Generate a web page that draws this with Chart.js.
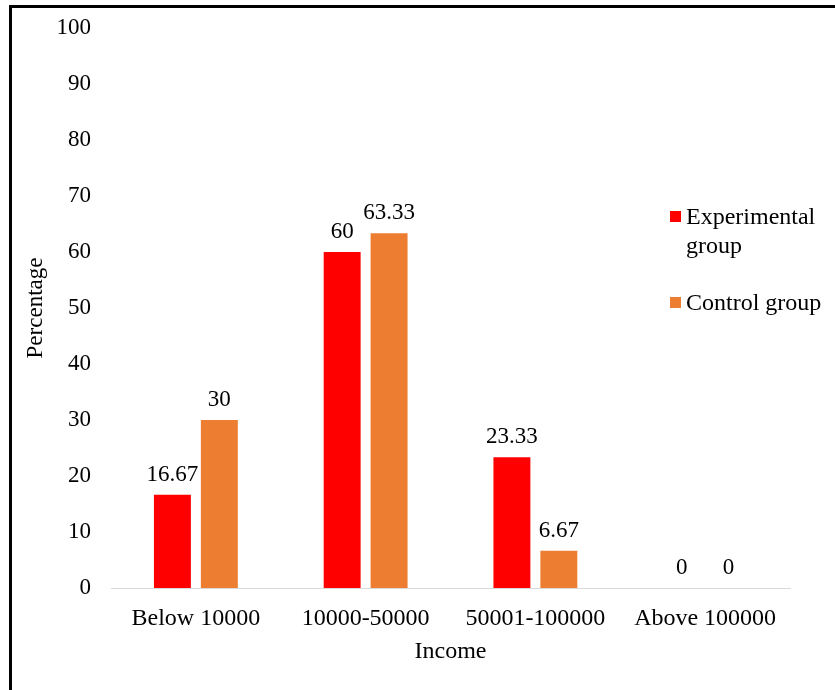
<!DOCTYPE html>
<html>
<head>
<meta charset="utf-8">
<script src="https://cdn.jsdelivr.net/npm/chart.js@4.4.0/dist/chart.umd.min.js"></script>
<style>
  html, body { margin: 0; padding: 0; background: #fff; }
  #wrap { position: relative; width: 835px; height: 690px; overflow: hidden; }
  #frame {
    position: absolute; left: 9px; top: 5px; right: -10px; bottom: -10px;
    border-left: 3px solid #000; border-top: 3px solid #000;
    pointer-events: none;
  }
  #legend { position: absolute; left: 670px; top: 202px; font-family: 'Liberation Serif', serif; font-size: 24px; color: #000; }
  .item { position: absolute; left: 0; width: 170px; line-height: 29px; white-space: nowrap; }
  .box { position: absolute; left: 0; top: 9px; width: 11px; height: 11px; }
  .txt { margin-left: 16px; }
</style>
</head>
<body>
<div id="wrap">
  <canvas id="chart" width="835" height="690"></canvas>
  <div id="frame"></div>
  <div id="legend"></div>
</div>
<script>
// ---- data ----
const categories = ['Below 10000', '10000-50000', '50001-100000', 'Above 100000'];
const experimental = [16.67, 60, 23.33, 0];
const control = [30, 63.33, 6.67, 0];
const seriesNames = [['Experimental', 'group'], ['Control group']];
const seriesColors = ['#ff0000', '#ed7d31'];

const FONT = "'Liberation Serif', 'Times New Roman', serif";
const SIZE = 23;

// value labels above each bar
const valueLabels = {
  id: 'valueLabels',
  afterDatasetsDraw(chart) {
    const ctx = chart.ctx;
    ctx.save();
    ctx.font = SIZE + 'px ' + FONT;
    ctx.fillStyle = '#000';
    ctx.textAlign = 'center';
    ctx.textBaseline = 'alphabetic';
    chart.data.datasets.forEach((ds, i) => {
      chart.getDatasetMeta(i).data.forEach((bar, j) => {
        ctx.fillText(String(ds.data[j]), bar.x, bar.y - 14);
      });
    });
    ctx.restore();
  },
};

Chart.defaults.font.family = FONT;
Chart.defaults.color = '#000';

new Chart(document.getElementById('chart'), {
  type: 'bar',
  data: {
    labels: categories,
    datasets: [
      { label: seriesNames[0].join(' '), data: experimental, backgroundColor: seriesColors[0] },
      { label: seriesNames[1].join(' '), data: control, backgroundColor: seriesColors[1] },
    ],
  },
  options: {
    responsive: false,
    animation: false,
    categoryPercentage: 0.553,
    barPercentage: 0.787,
    layout: { padding: { left: 20, right: 45, top: 28, bottom: 22 } },
    plugins: {
      legend: { display: false },
      tooltip: { enabled: false },
    },
    scales: {
      x: {
        grid: { display: false, drawTicks: false },
        border: { display: true, color: '#d9d9d9', width: 1 },
        ticks: { padding: 16, font: { size: 24 }, color: '#000', maxRotation: 0 },
        title: { display: true, text: 'Income', font: { size: 24 }, color: '#000', padding: { top: 8, bottom: 2 } },
        afterFit: (scale) => { scale.height = 80; },
      },
      y: {
        min: 0,
        max: 100,
        grid: { display: false, drawTicks: false },
        border: { display: false },
        ticks: { stepSize: 10, padding: 20, font: { size: SIZE }, color: '#000' },
        title: { display: true, text: 'Percentage', font: { size: SIZE }, color: '#000', padding: { top: 2, bottom: 4 } },
        afterFit: (scale) => { scale.width = 91; scale.paddingTop = 0; },
      },
    },
  },
  plugins: [valueLabels],
});

// legend (html, so the first name can wrap onto two lines)
const legendEl = document.getElementById('legend');
let itemTop = 0;
seriesNames.forEach((lines, i) => {
  const item = document.createElement('div');
  item.className = 'item';
  item.style.top = itemTop + 'px';
  item.innerHTML = '<span class="box" style="background:' + seriesColors[i] + '"></span>' +
    '<div class="txt">' + lines.join('<br>') + '</div>';
  legendEl.appendChild(item);
  itemTop += 86;
});
</script>
</body>
</html>
